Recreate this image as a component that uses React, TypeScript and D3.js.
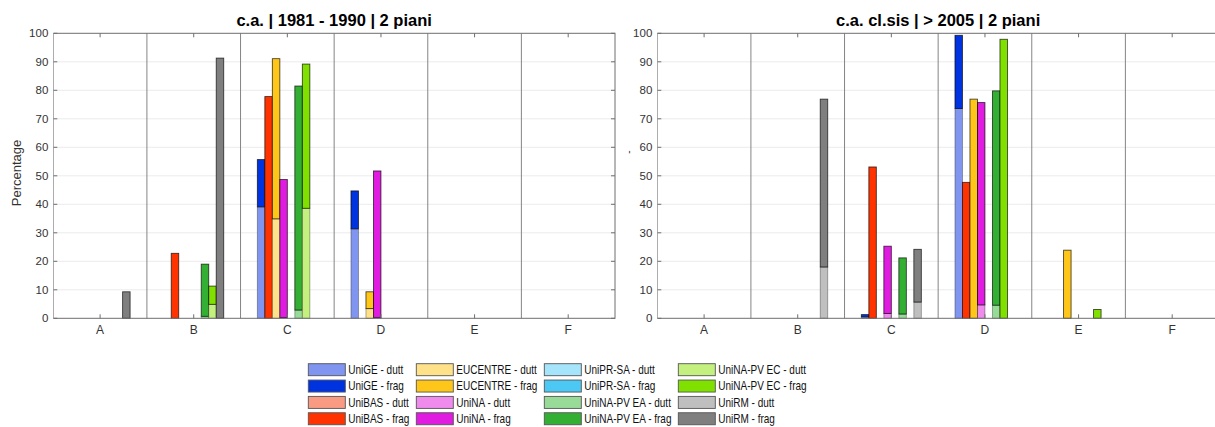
import React from 'react';
import * as d3 from 'd3';

const categories = ['A', 'B', 'C', 'D', 'E', 'F'];
const institutions = ['UniGE', 'UniBAS', 'EUCENTRE', 'UniNA', 'UniPR-SA', 'UniNA-PV EA', 'UniNA-PV EC', 'UniRM'];
const duttColors = ['#7f95ef', '#f99a82', '#ffe18a', '#f08bee', '#a6e4fb', '#98db98', '#c3f07f', '#bfbfbf'];
const fragColors = ['#0033e0', '#ff3300', '#ffc61a', '#e01ce0', '#4cc8f4', '#33b033', '#80e000', '#7f7f7f'];
const yTicks = [0, 10, 20, 30, 40, 50, 60, 70, 80, 90, 100];

const leftTitle = 'c.a. | 1981 - 1990 | 2 piani';
const rightTitle = 'c.a. cl.sis | > 2005 | 2 piani';

// rows: institutions, columns: categories A..F (stacked segments)
const leftDutt = [
  [0, 0, 39.1, 31.4, 0, 0],
  [0, 0, 0, 0, 0, 0],
  [0, 0, 34.9, 3.4, 0, 0],
  [0, 0, 0.3, 0.3, 0, 0],
  [0, 0, 0, 0, 0, 0],
  [0, 0.7, 2.9, 0, 0, 0],
  [0, 4.9, 38.6, 0, 0, 0],
  [0, 0, 0, 0, 0, 0],
];
const leftFrag = [
  [0, 0, 16.6, 13.3, 0, 0],
  [0, 22.8, 77.8, 0, 0, 0],
  [0, 0, 56.2, 5.9, 0, 0],
  [0, 0, 48.4, 51.4, 0, 0],
  [0, 0, 0, 0, 0, 0],
  [0, 18.3, 78.6, 0, 0, 0],
  [0, 6.4, 50.6, 0, 0, 0],
  [9.3, 91.3, 0, 0, 0, 0],
];
const rightDutt = [
  [0, 0, 0.5, 73.6, 0, 0],
  [0, 0, 0, 0, 0, 0],
  [0, 0, 0, 0, 0, 0],
  [0, 0, 1.7, 4.7, 0, 0],
  [0, 0, 0, 0, 0, 0],
  [0, 0, 1.5, 4.6, 0, 0],
  [0, 0, 0, 0, 0, 0],
  [0, 18.0, 5.7, 0, 0, 0],
];
const rightFrag = [
  [0, 0, 0.8, 25.7, 0, 0],
  [0, 0, 53.1, 47.7, 0, 0],
  [0, 0, 0, 76.9, 23.9, 0],
  [0, 0, 23.6, 71.0, 0, 0],
  [0, 0, 0, 0, 0, 0],
  [0, 0, 19.7, 75.2, 0, 0],
  [0, 0, 0, 97.9, 3.1, 0],
  [0, 58.9, 18.5, 0, 0, 0],
];

const FONT = 'Liberation Sans, Arial, Helvetica, sans-serif';

type PanelProps = {
  title: string;
  dutt: number[][];
  frag: number[][];
  x0: number;
  x1: number;
  ylabel: string;
  ylabelX: number;
  ylabelY: number;
  ylabelSize: number;
};

function Panel({ title, dutt, frag, x0, x1, ylabel, ylabelX, ylabelY, ylabelSize }: PanelProps) {
  const yTop = 33.3;
  const yBot = 318.3;
  const x = d3.scaleBand<string>().domain(categories).range([x0, x1]).paddingInner(0).paddingOuter(0);
  const inner = d3.scaleBand<string>().domain(institutions).range([-30, 30]).padding(0);
  const y = d3.scaleLinear().domain([0, 100]).range([yBot, yTop]);
  const bw = inner.bandwidth();
  const boundaries = categories.slice(1).map((c) => x(c) as number);

  return (
    <g>
      <defs>
        <clipPath id={'clip' + x0}>
          <rect x={x0} y={0} width={x1 - x0 + 2} height={427} />
        </clipPath>
      </defs>
      {yTicks.slice(1, -1).map((t) => (
        <line key={'g' + t} x1={x0} x2={x1} y1={y(t)} y2={y(t)} stroke="#ebebeb" strokeWidth={1} />
      ))}
      {boundaries.map((bx, i) => (
        <line key={'d' + i} x1={bx} x2={bx} y1={yTop} y2={yBot} stroke="#858585" strokeWidth={1} />
      ))}
      {institutions.map((inst, i) =>
        categories.map((cat, j) => {
          const cx = (x(cat) as number) + x.bandwidth() / 2 + (inner(inst) as number);
          const d = dutt[i][j];
          const f = frag[i][j];
          const out: React.ReactNode[] = [];
          if (d > 0) {
            out.push(
              <rect key={'bd' + i + j} x={cx} width={bw} y={y(d)} height={y(0) - y(d)}
                fill={duttColors[i]} stroke="#000" strokeOpacity={0.35} strokeWidth={0.9} />
            );
          }
          if (f > 0) {
            out.push(
              <rect key={'bf' + i + j} x={cx} width={bw} y={y(d + f)} height={y(d) - y(d + f)}
                fill={fragColors[i]} stroke="#000" strokeOpacity={0.7} strokeWidth={0.9} />
            );
          }
          return out;
        })
      )}
      <g clipPath={`url(#clip${x0})`}>
        <rect x={x0} y={yTop} width={x1 - x0} height={yBot - yTop} fill="none" stroke="#6e6e6e" strokeWidth={1} />
        {categories.map((c) => {
          const cx = (x(c) as number) + x.bandwidth() / 2;
          return (
            <g key={'xt' + c}>
              <line x1={cx} x2={cx} y1={yBot} y2={yBot - 4} stroke="#6e6e6e" />
              <line x1={cx} x2={cx} y1={yTop} y2={yTop + 4} stroke="#6e6e6e" />
            </g>
          );
        })}
        {yTicks.map((t) => (
          <g key={'yt' + t}>
            <line x1={x0} x2={x0 + 4} y1={y(t)} y2={y(t)} stroke="#6e6e6e" />
            <line x1={x1} x2={x1 - 4} y1={y(t)} y2={y(t)} stroke="#6e6e6e" />
          </g>
        ))}
      </g>
      {yTicks.map((t) => (
        <text key={'yl' + t} x={x0 - 5} y={y(t)} dy="0.35em" textAnchor="end" fontFamily={FONT}
          fontSize={11.5} fill="#333">{t}</text>
      ))}
      {categories.map((c) => (
        <text key={'xl' + c} x={(x(c) as number) + x.bandwidth() / 2} y={334} textAnchor="middle"
          fontFamily={FONT} fontSize={12} fill="#333">{c}</text>
      ))}
      <text x={(x0 + x1) / 2} y={26} textAnchor="middle" fontFamily={FONT} fontWeight="bold"
        fontSize={16.5} fill="#000">{title}</text>
      <text transform={`translate(${ylabelX},${ylabelY}) rotate(-90)`} textAnchor="middle" dy="0.35em"
        fontFamily={FONT} fontSize={ylabelSize} fill="#333">{ylabel}</text>
    </g>
  );
}

const legendCols = [308.3, 416.3, 544.3, 678.3];
const legendRowTop = 363.7;
const legendRowStep = 16.35;

function Legend() {
  const items: { label: string; color: string }[] = [];
  institutions.forEach((inst, i) => {
    items.push({ label: inst + ' - dutt', color: duttColors[i] });
    items.push({ label: inst + ' - frag', color: fragColors[i] });
  });
  return (
    <g>
      {items.map((it, k) => {
        const col = Math.floor(k / 4);
        const row = k % 4;
        const sx = legendCols[col];
        const sy = legendRowTop + row * legendRowStep;
        return (
          <g key={'lg' + k}>
            <rect x={sx} y={sy} width={37} height={12} fill={it.color} stroke="#555" strokeWidth={0.9} />
            <text transform={`translate(${sx + 40},${sy + 6}) scale(0.82,1)`} dy="0.36em"
              fontFamily={FONT} fontSize={12.2} fill="#111">{it.label}</text>
          </g>
        );
      })}
    </g>
  );
}

export default function App() {
  return (
    <svg width={1215} height={427} style={{ position: 'absolute', left: 0, top: 0, background: '#fff' }}>
      <rect x={0} y={0} width={1215} height={427} fill="#fff" />
      <Panel title={leftTitle} dutt={leftDutt} frag={leftFrag} x0={53.3} x1={615}
        ylabel="Percentage" ylabelX={16} ylabelY={173} ylabelSize={13} />
      <Panel title={rightTitle} dutt={rightDutt} frag={rightFrag} x0={657.3} x1={1219}
        ylabel="-" ylabelX={628} ylabelY={152} ylabelSize={10} />
      <Legend />
    </svg>
  );
}
